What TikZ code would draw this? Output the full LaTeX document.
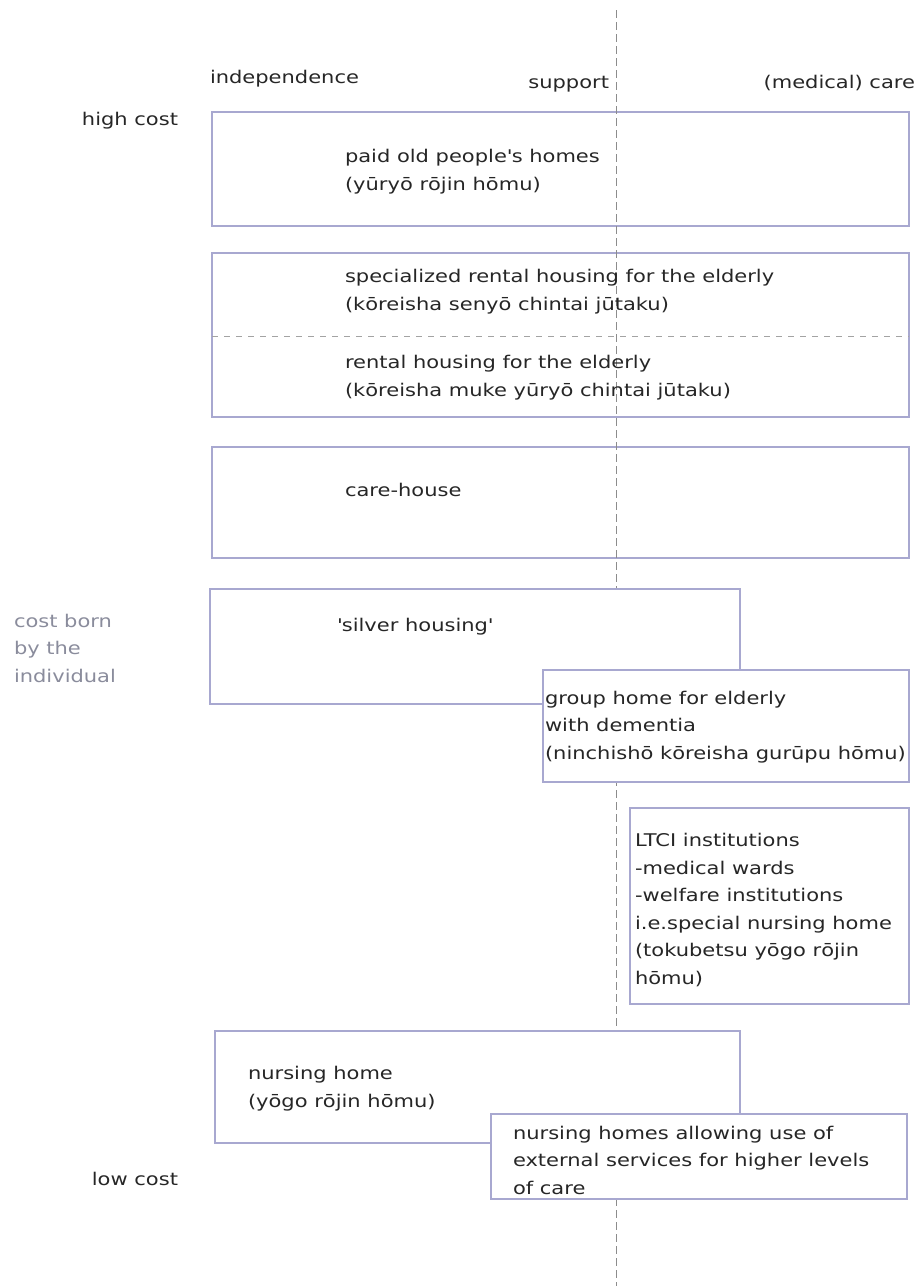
\documentclass[tikz,border=0pt]{standalone}
\usepackage{fontspec}
\setmainfont[FakeStretch=1.2]{DejaVu Sans}
\usepackage{tikz}

\definecolor{boxline}{HTML}{A8A8D0}
\definecolor{axisgray}{HTML}{8C8C8C}
\definecolor{sidegray}{HTML}{8A8C9C}

\begin{document}
\begin{tikzpicture}[
    x=1pt, y=-1pt,
    every node/.style={font=\fontsize{17.5}{27.5}\selectfont, inner sep=0pt, outer sep=0pt},
    box/.style={draw=boxline, line width=1.2pt, rectangle, anchor=north west},
    filled box/.style={box, fill=white},
    label/.style={anchor=base west, align=left, text=black!85},
    side label/.style={anchor=base east, text=black!85},
    axis line/.style={draw=axisgray, line width=1pt, dash pattern=on 8pt off 4pt},
    split line/.style={draw=axisgray!80, line width=1pt, dash pattern=on 6pt off 6pt}
]
\useasboundingbox (0,0) rectangle (917,1286);

% Boxes behind the axis
\node[box, minimum width=697pt, minimum height=114pt] (paid) at (212,112) {};
\node[box, minimum width=697pt, minimum height=164pt] (rental) at (212,253) {};
\node[box, minimum width=697pt, minimum height=111pt] (carehouse) at (212,447) {};

% Split inside the rental box
\coordinate (split) at (0,336);
\draw[split line] (rental.west |- split) -- (rental.east |- split);

% Support axis
\coordinate (axis top) at (616,10);
\coordinate (axis bottom) at (616,1286);
\draw[axis line] (axis top) -- (axis bottom);

% Boxes in front of the axis
\node[filled box, minimum width=530pt, minimum height=115pt] (silver) at (210,589) {};
\node[filled box, minimum width=366pt, minimum height=112pt] (group) at (543,670) {};
\node[filled box, minimum width=279pt, minimum height=196pt] (ltci) at (630,808) {};
\node[filled box, minimum width=525pt, minimum height=112pt] (nursing) at (215,1031) {};
\node[filled box, minimum width=416pt, minimum height=85pt] (extern) at (491,1114) {};

% Column headings
\node[label] (independence) at (210,83) {independence};
\node[side label] (support) at (609,88) {support};
\node[side label] (care) at (915,88) {(medical) care};

% Cost scale (multi-line texts sit on their last baseline)
\node[side label] (high cost) at (178,125) {high cost};
\node[anchor=base west, align=left, text=sidegray] (born) at (14,682) {cost born\\by the\\individual};
\node[side label] (low cost) at (178,1185) {low cost};

% Box texts
\node[label] (paid text) at (345,190) {paid old people\textquotesingle s homes\\(yūryō rōjin hōmu)};
\node[label] (rental text a) at (345,310) {specialized rental housing for the elderly\\(kōreisha senyō chintai jūtaku)};
\node[label] (rental text b) at (345,396) {rental housing for the elderly\\(kōreisha muke yūryō chintai jūtaku)};
\node[label] (carehouse text) at (345,496) {care-house};
\node[label] (silver text) at (337,631) {\textquotesingle silver housing\textquotesingle};
\node[label] (group text) at (545,759) {group home for elderly\\with dementia\\(ninchishō kōreisha gurūpu hōmu)};
\node[label] (ltci text) at (635,984) {LTCI institutions\\-medical wards\\-welfare institutions\\i.e.special nursing home\\(tokubetsu yōgo rōjin\\hōmu)};
\node[label] (nursing text) at (248,1107) {nursing home\\(yōgo rōjin hōmu)};
\node[label] (extern text) at (513,1194) {nursing homes allowing use of\\external services for higher levels\\of care};

\end{tikzpicture}
\end{document}
